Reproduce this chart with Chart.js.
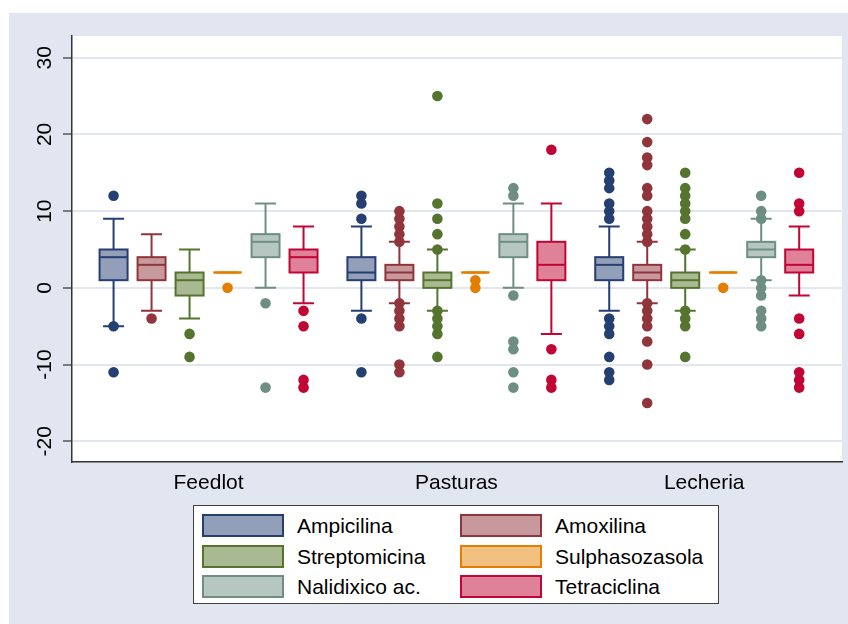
<!DOCTYPE html>
<html>
<head>
<meta charset="utf-8">
<script src="https://cdn.jsdelivr.net/npm/chart.js@4.4.1/dist/chart.umd.min.js"></script>
<style>
  html, body { margin: 0; padding: 0; background: #ffffff; }
  #wrap { position: relative; width: 848px; height: 624px; overflow: hidden; }
  #bg { position: absolute; left: 9px; top: 13px; right: 0; bottom: 0; background: #E1E6F0; }
  #chart { position: absolute; left: 0; top: 0; }
  #legend { position: absolute; left: 193px; top: 505px; width: 524px; height: 97px;
            background: #ffffff; border: 1px solid #404040;
            font-family: "Liberation Sans", Arial, sans-serif; font-size: 21px; color: #000; }
  .item { position: absolute; height: 23px; line-height: 23px; }
  .sw { position: absolute; left: 0; top: 0; width: 78px; height: 19px; border: 2px solid; }
  .lbl { position: absolute; left: 95px; top: 0; white-space: nowrap; }
</style>
</head>
<body>
<div id="wrap">
  <div id="bg"></div>
  <canvas id="chart" width="848" height="624"></canvas>
  <div id="legend"></div>
</div>
<script>
var groups = ['Feedlot', 'Pasturas', 'Lecheria'];
var antibiotics = ['Ampicilina', 'Amoxilina', 'Streptomicina', 'Sulphasozasola', 'Nalidixico ac.', 'Tetraciclina'];
var yTicks = [-20, -10, 0, 10, 20, 30];

// per group: [lower whisker, q1, median, q3, upper whisker]
var ampicilinaBox = [[-5, 1, 4, 5, 9], [-3, 1, 2, 4, 8], [-3, 1, 3, 4, 8]];
var amoxilinaBox = [[-3, 1, 3, 4, 7], [-2, 1, 2, 3, 6], [-2, 1, 2, 3, 6]];
var streptomicinaBox = [[-4, -1, 1, 2, 5], [-3, 0, 1, 2, 5], [-3, 0, 1, 2, 5]];
var sulphasozasolaBox = [[2, 2, 2, 2, 2], [2, 2, 2, 2, 2], [2, 2, 2, 2, 2]];
var nalidixicoBox = [[0, 4, 6, 7, 11], [0, 4, 6, 7, 11], [1, 4, 5, 6, 9]];
var tetraciclinaBox = [[-2, 2, 4, 5, 8], [-6, 1, 3, 6, 11], [-1, 2, 3, 5, 8]];

// outside values per group
var ampicilinaOut = [[12, -5, -11], [12, 11, 9, -4, -11], [15, 14, 13, 11, 10, 9, -4, -5, -6, -9, -11, -12]];
var amoxilinaOut = [[-4], [10, 9, 8, 7, 6, -2, -3, -4, -5, -10, -11],
                    [22, 19, 17, 16, 13, 12, 10, 9, 8, 7, 6, -2, -3, -4, -5, -7, -10, -15]];
var streptomicinaOut = [[-6, -9], [25, 11, 9, 7, 5, -3, -4, -5, -6, -9],
                        [15, 13, 12, 11, 10, 9, 7, 5, -3, -4, -5, -9]];
var sulphasozasolaOut = [[0], [1, 0], [0]];
var nalidixicoOut = [[-2, -13], [13, 12, -1, -7, -8, -11, -13], [12, 10, 9, 1, 0, -1, -3, -4, -5]];
var tetraciclinaOut = [[-3, -5, -12, -13], [18, -8, -12, -13], [15, 11, 10, -4, -6, -11, -12, -13]];

var boxData = [ampicilinaBox, amoxilinaBox, streptomicinaBox, sulphasozasolaBox, nalidixicoBox, tetraciclinaBox];
var outData = [ampicilinaOut, amoxilinaOut, streptomicinaOut, sulphasozasolaOut, nalidixicoOut, tetraciclinaOut];

var lineColors = ['#243F70', '#90353B', '#55752F', '#E37E00', '#6E8E84', '#C10534'];
var fillColors = ['#939FB8', '#C8999C', '#A9BA92', '#F2C080', '#B6C7C1', '#E0819A'];

var step = 0.1533;
function xPos(g, k) { return g + 1 + (k - 2.5) * step; }

var datasets = antibiotics.map(function (name, k) {
  var pts = [];
  outData[k].forEach(function (vals, g) {
    vals.forEach(function (v) { pts.push({ x: xPos(g, k), y: v }); });
  });
  return {
    label: name,
    data: pts,
    pointRadius: 5.3,
    pointHoverRadius: 5.3,
    pointBackgroundColor: lineColors[k],
    pointBorderWidth: 0
  };
});

var boxPlugin = {
  id: 'boxes',
  beforeDraw: function (chart) {
    var a = chart.chartArea, c = chart.ctx;
    c.save();
    c.fillStyle = '#ffffff';
    c.fillRect(a.left, a.top, a.right - a.left, a.bottom - a.top);
    c.restore();
  },
  beforeDatasetsDraw: function (chart) {
    var c = chart.ctx, xs = chart.scales.x, ys = chart.scales.y;
    c.save();
    c.lineWidth = 2;
    boxData.forEach(function (bx, k) {
      bx.forEach(function (s, g) {
        var xc = xs.getPixelForValue(xPos(g, k));
        var lw = ys.getPixelForValue(s[0]), q1 = ys.getPixelForValue(s[1]),
            md = ys.getPixelForValue(s[2]), q3 = ys.getPixelForValue(s[3]),
            uw = ys.getPixelForValue(s[4]);
        var hw = 14, cw = 10.5;
        c.strokeStyle = lineColors[k];
        c.beginPath();
        c.moveTo(xc, q3); c.lineTo(xc, uw);
        c.moveTo(xc - cw, uw); c.lineTo(xc + cw, uw);
        c.moveTo(xc, q1); c.lineTo(xc, lw);
        c.moveTo(xc - cw, lw); c.lineTo(xc + cw, lw);
        c.stroke();
        c.fillStyle = fillColors[k];
        c.fillRect(xc - hw, q3, hw * 2, q1 - q3);
        c.strokeRect(xc - hw, q3, hw * 2, q1 - q3);
        c.beginPath();
        c.moveTo(xc - hw, md); c.lineTo(xc + hw, md);
        c.stroke();
      });
    });
    c.restore();
  },
  afterDraw: function (chart) {
    var c = chart.ctx, ys = chart.scales.y;
    c.save();
    c.fillStyle = '#000000';
    c.font = '21px "Liberation Sans", Arial, sans-serif';
    c.textAlign = 'center';
    c.textBaseline = 'middle';
    yTicks.forEach(function (t) {
      c.save();
      c.translate(45, ys.getPixelForValue(t));
      c.rotate(-Math.PI / 2);
      c.fillText(String(t), 0, 0);
      c.restore();
    });
    c.restore();
  }
};

new Chart(document.getElementById('chart').getContext('2d'), {
  type: 'scatter',
  data: { datasets: datasets },
  options: {
    responsive: false,
    animation: false,
    events: [],
    layout: { padding: { left: 0, top: 36, right: 6, bottom: 0 } },
    plugins: { legend: { display: false }, tooltip: { enabled: false } },
    scales: {
      x: {
        type: 'linear',
        min: 0.449,
        max: 3.556,
        afterBuildTicks: function (scale) {
          scale.ticks = groups.map(function (g, i) { return { value: i + 1 }; });
        },
        afterFit: function (scale) { scale.height = 162; },
        ticks: {
          padding: 9,
          color: '#000000',
          font: { family: '"Liberation Sans", Arial, sans-serif', size: 21 },
          callback: function (v) { return groups[v - 1]; }
        },
        grid: { display: false, drawTicks: false },
        border: { display: true, color: '#333333', width: 1.5 }
      },
      y: {
        min: -22.7,
        max: 32.83,
        afterBuildTicks: function (scale) {
          scale.ticks = yTicks.map(function (t) { return { value: t }; });
        },
        afterFit: function (scale) { scale.width = 72; },
        ticks: { display: false },
        grid: { color: '#E1E6F0', lineWidth: 2, tickLength: 9, tickColor: '#333333', tickWidth: 1.2 },
        border: { display: true, color: '#333333', width: 1.5 }
      }
    }
  },
  plugins: [boxPlugin]
});

// legend
var legend = document.getElementById('legend');
antibiotics.forEach(function (name, k) {
  var col = k % 2, row = Math.floor(k / 2);
  var it = document.createElement('div');
  it.className = 'item';
  it.style.left = (col === 0 ? 8 : 266) + 'px';
  it.style.top = (8 + row * 30.5) + 'px';
  var sw = document.createElement('div');
  sw.className = 'sw';
  sw.style.background = fillColors[k];
  sw.style.borderColor = lineColors[k];
  var lb = document.createElement('div');
  lb.className = 'lbl';
  lb.textContent = name;
  it.appendChild(sw);
  it.appendChild(lb);
  legend.appendChild(it);
});
</script>
</body>
</html>
